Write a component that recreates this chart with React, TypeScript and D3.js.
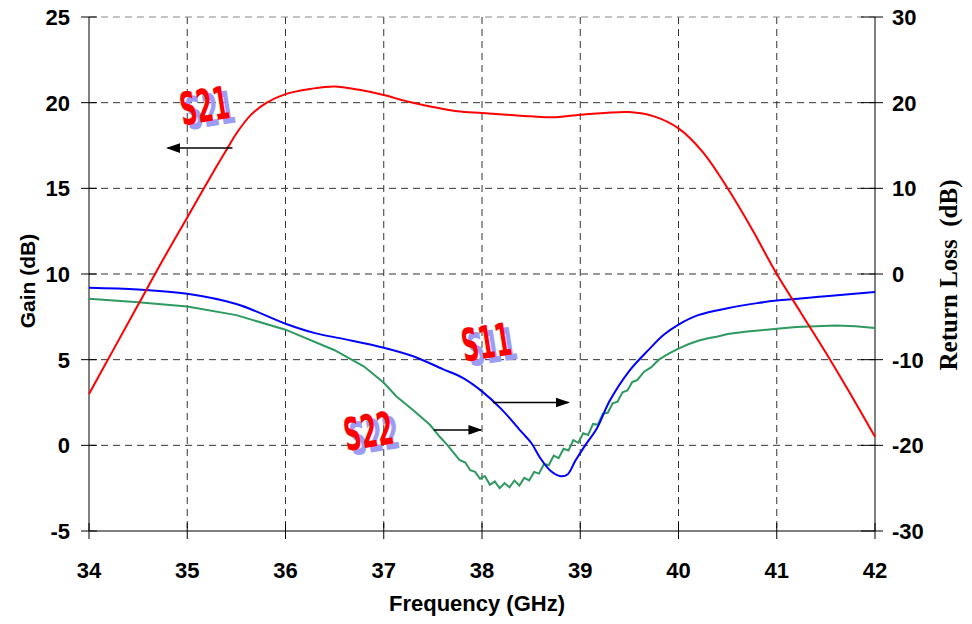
import React from 'react';
import * as d3 from 'd3';

// frequency (GHz) and values
const s21Freq = [34, 34.25, 34.5, 34.75, 35, 35.28, 35.41, 35.5, 35.65, 35.81, 36, 36.25, 36.5, 36.75, 37, 37.25, 37.5, 37.75, 38, 38.25, 38.5, 38.75, 39, 39.25, 39.5, 39.75, 40, 40.25, 40.5, 40.75, 41, 41.25, 41.5, 41.75, 42];
const s21Gain = [3.0, 5.6, 8.2, 10.8, 13.3, 16.1, 17.35, 18.2, 19.3, 20.0, 20.5, 20.8, 20.95, 20.75, 20.45, 20.05, 19.75, 19.5, 19.4, 19.3, 19.2, 19.15, 19.3, 19.4, 19.45, 19.2, 18.5, 17.1, 15.0, 12.6, 10.0, 7.7, 5.4, 3.0, 0.5];

const s11Freq = [34, 34.5, 35, 35.5, 36, 36.3, 36.6, 37, 37.3, 37.6, 37.8, 38, 38.2, 38.4, 38.5, 38.6, 38.7, 38.8, 38.87, 38.95, 39.05, 39.17, 39.3, 39.5, 39.7, 39.85, 40, 40.2, 40.5, 40.8, 41, 41.5, 42];
const s11Loss = [-1.6, -1.8, -2.3, -3.5, -5.8, -6.9, -7.6, -8.6, -9.6, -11.1, -12.1, -13.7, -15.8, -18.4, -19.7, -21.6, -23.0, -23.6, -23.4, -21.8, -20.0, -18.0, -14.8, -11.3, -8.8, -7.1, -5.9, -4.8, -4.0, -3.4, -3.1, -2.6, -2.1];

const s22Freq = [34, 34.5, 35, 35.5, 36, 36.5, 36.8, 37, 37.13, 37.3, 37.47, 37.57, 37.65, 37.72, 37.77, 37.83, 37.88, 37.93, 37.98, 38.03, 38.08, 38.13, 38.18, 38.23, 38.28, 38.33, 38.38, 38.43, 38.48, 38.53, 38.58, 38.63, 38.68, 38.73, 38.78, 38.83, 38.88, 38.93, 38.98, 39.03, 39.08, 39.13, 39.18, 39.23, 39.28, 39.33, 39.38, 39.43, 39.48, 39.53, 39.58, 39.65, 39.72, 39.8, 39.9, 40, 40.1, 40.2, 40.3, 40.4, 40.5, 40.7, 40.9, 41, 41.2, 41.4, 41.6, 41.8, 42];
const s22Loss = [-2.9, -3.3, -3.8, -4.8, -6.5, -8.9, -10.8, -12.7, -14.3, -15.9, -17.6, -19.0, -20.0, -21.0, -21.7, -22.0, -22.9, -23.1, -23.9, -23.6, -24.6, -24.2, -25.0, -24.4, -24.9, -24.1, -24.7, -23.8, -24.1, -23.1, -23.3, -22.2, -22.3, -21.2, -21.5, -20.4, -20.6, -19.4, -19.7, -18.6, -18.8, -17.5, -17.6, -16.3, -16.2, -15.1, -14.9, -13.8, -13.6, -12.6, -12.4, -11.4, -10.9, -10.0, -9.3, -8.7, -8.2, -7.8, -7.5, -7.3, -7.0, -6.7, -6.5, -6.4, -6.2, -6.1, -6.0, -6.1, -6.3];

const xTicks = [34, 35, 36, 37, 38, 39, 40, 41, 42];
const gainTicks = [-5, 0, 5, 10, 15, 20, 25];
const lossTicks = [-30, -20, -10, 0, 10, 20, 30];

// labels with arrows: [text, label x, label baseline (gain units), arrow from x, arrow to x, arrow y (gain units)]
const notes: [string, number, number, number, number, number][] = [
  ['S21', 35.2, 18.9, 35.46, 34.8, 17.35],
  ['S11', 38.07, 5.1, 38.11, 38.88, 2.5],
  ['S22', 36.87, -0.1, 37.51, 37.99, 0.9],
];

const W = 972, H = 624;
const m = { l: 89, r: 875, t: 17, b: 531 };

export default function App() {
  const x = d3.scaleLinear().domain([34, 42]).range([m.l, m.r]);
  const yL = d3.scaleLinear().domain([-5, 25]).range([m.b, m.t]);
  const yR = d3.scaleLinear().domain([-30, 30]).range([m.b, m.t]);

  const smooth = (xs: number[], ys: number[], y: d3.ScaleLinear<number, number>) =>
    d3.line<number>().x((d, i) => x(xs[i])).y((d) => y(d)).curve(d3.curveCatmullRom.alpha(0.5))(ys) || '';
  const raw = (xs: number[], ys: number[], y: d3.ScaleLinear<number, number>) =>
    d3.line<number>().x((d, i) => x(xs[i])).y((d) => y(d))(ys) || '';

  const font = "'Liberation Sans', Arial, sans-serif";
  const dash = '7,5';
  const labelFont = "'DejaVu Sans', sans-serif";

  return (
    <svg width={W} height={H} style={{ position: 'absolute', left: 0, top: 0, background: '#fff' }}>
      <defs>
        <marker id="ah2" viewBox="0 0 10 10" refX="9" refY="5" markerWidth="14" markerHeight="14" markerUnits="userSpaceOnUse" orient="auto">
          <path d="M0,1.5 L10,5 L0,8.5 z" fill="#000" />
        </marker>
      </defs>

      {/* grid */}
      {xTicks.slice(1, -1).map((t) => (
        <line key={'gx' + t} x1={x(t)} x2={x(t)} y1={m.t} y2={m.b} stroke="#333" strokeDasharray={dash} strokeWidth={1} />
      ))}
      {gainTicks.slice(1).map((t) => (
        <line key={'gy' + t} x1={m.l} x2={m.r} y1={yL(t)} y2={yL(t)} stroke={t === 25 ? '#888' : '#333'} strokeDasharray={dash} strokeWidth={1} />
      ))}

      {/* axes */}
      <line x1={m.l} x2={m.l} y1={m.t} y2={m.b} stroke="#000" />
      <line x1={m.r} x2={m.r} y1={m.t} y2={m.b} stroke="#000" />
      <line x1={m.l} x2={m.r} y1={m.b} y2={m.b} stroke="#000" />
      {gainTicks.map((t) => (
        <g key={'lt' + t}>
          <line x1={m.l - 8} x2={m.l + 8} y1={yL(t)} y2={yL(t)} stroke="#000" />
          <text x={70} y={yL(t)} dy="0.36em" textAnchor="end" fontFamily={font} fontWeight="bold" fontSize={22}>{t}</text>
        </g>
      ))}
      {lossTicks.map((t) => (
        <g key={'rt' + t}>
          <line x1={m.r - 14} x2={m.r + 8} y1={yR(t)} y2={yR(t)} stroke="#000" />
          <text x={892} y={yR(t)} dy="0.36em" textAnchor="start" fontFamily={font} fontWeight="bold" fontSize={22}>{t}</text>
        </g>
      ))}
      {xTicks.map((t) => (
        <g key={'xt' + t}>
          <line x1={x(t)} x2={x(t)} y1={m.b - 8} y2={m.b + 8} stroke="#000" />
          <text x={x(t)} y={578} textAnchor="middle" fontFamily={font} fontWeight="bold" fontSize={22}>{t}</text>
        </g>
      ))}

      <text x={477} y={611} textAnchor="middle" fontFamily={font} fontWeight="bold" fontSize={22}>Frequency (GHz)</text>
      <text transform="translate(35,281) rotate(-90)" textAnchor="middle" fontFamily={font} fontWeight="bold" fontSize={21}>Gain (dB)</text>
      <text transform="translate(957,275) rotate(-90)" textAnchor="middle" fontFamily="'Liberation Serif', 'Times New Roman', serif" fontWeight="bold" fontSize={25} style={{ whiteSpace: 'pre' }}>Return Loss  (dB)</text>

      {/* curves */}
      <path d={raw(s22Freq, s22Loss, yR)} fill="none" stroke="#2e9960" strokeWidth={2} />
      <path d={smooth(s11Freq, s11Loss, yR)} fill="none" stroke="#0000ff" strokeWidth={2} />
      <path d={smooth(s21Freq, s21Gain, yL)} fill="none" stroke="#ff0000" strokeWidth={2} />

      {/* annotations */}
      {notes.map(([label, lx, ly, ax0, ax1, ay]) => (
        <g key={label}>
          <line x1={x(ax0)} x2={x(ax1)} y1={yL(ay)} y2={yL(ay)} stroke="#000" strokeWidth={1.5} markerEnd="url(#ah2)" />
          <g transform={`translate(${x(lx)},${yL(ly)}) rotate(-9) scale(0.56,1.08)`}>
            <text x={9} y={5} textAnchor="middle" fontFamily={labelFont} fontWeight="bold" fontSize={42} fill="#9c9cf4">{label}</text>
            <text x={0} y={0} textAnchor="middle" fontFamily={labelFont} fontWeight="bold" fontSize={42} fill="#ff0000">{label}</text>
          </g>
        </g>
      ))}
    </svg>
  );
}
